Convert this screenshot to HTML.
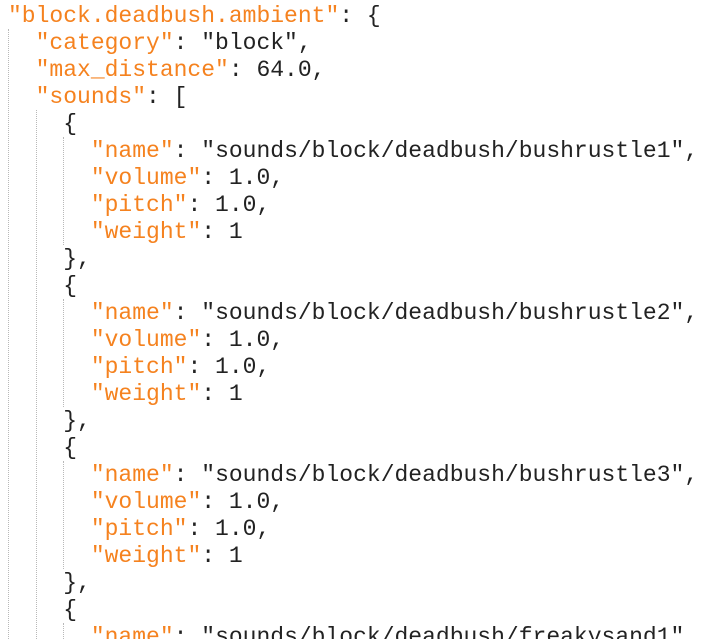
<!DOCTYPE html>
<html><head><style>
html,body{margin:0;padding:0;background:#fff;width:708px;height:639px;overflow:hidden;position:relative}
pre{margin:0;position:absolute;left:8px;top:3px;font-family:"Liberation Mono",monospace;font-size:23px;line-height:27px;color:#222;white-space:pre}
.k{color:#f5821f}
.g{position:absolute;width:0;border-left:1px dotted #b8b8b8}
</style></head><body>
<div class="g" style="left:8px;top:29px;height:610px"></div>
<div class="g" style="left:36px;top:110px;height:529px"></div>
<div class="g" style="left:63px;top:137px;height:108px"></div>
<div class="g" style="left:63px;top:299px;height:108px"></div>
<div class="g" style="left:63px;top:461px;height:108px"></div>
<div class="g" style="left:63px;top:623px;height:16px"></div>
<pre><span class="k">"block.deadbush.ambient"</span>: {
  <span class="k">"category"</span>: "block",
  <span class="k">"max_distance"</span>: 64.0,
  <span class="k">"sounds"</span>: [
    {
      <span class="k">"name"</span>: "sounds/block/deadbush/bushrustle1",
      <span class="k">"volume"</span>: 1.0,
      <span class="k">"pitch"</span>: 1.0,
      <span class="k">"weight"</span>: 1
    },
    {
      <span class="k">"name"</span>: "sounds/block/deadbush/bushrustle2",
      <span class="k">"volume"</span>: 1.0,
      <span class="k">"pitch"</span>: 1.0,
      <span class="k">"weight"</span>: 1
    },
    {
      <span class="k">"name"</span>: "sounds/block/deadbush/bushrustle3",
      <span class="k">"volume"</span>: 1.0,
      <span class="k">"pitch"</span>: 1.0,
      <span class="k">"weight"</span>: 1
    },
    {
      <span class="k">"name"</span>: "sounds/block/deadbush/freakysand1",
</pre>
</body></html>
